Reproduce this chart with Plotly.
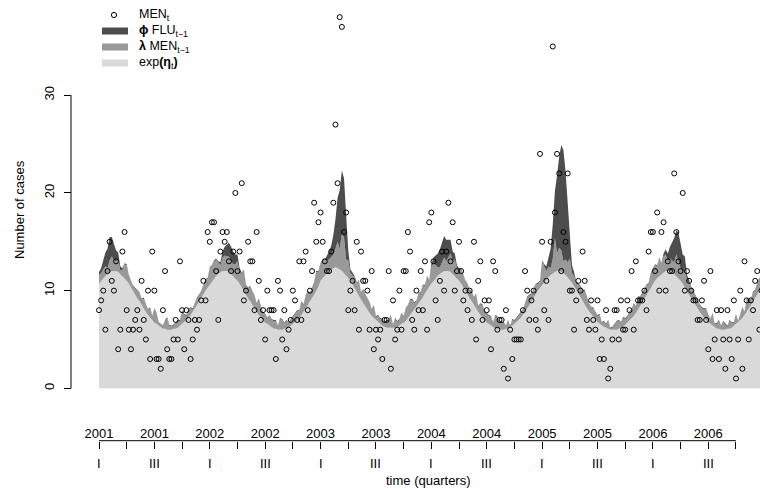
import plotly.graph_objects as go

# ---------------- data ----------------
men_2001 = [8, 9, 10, 6, 12, 15, 11, 10, 13, 4, 6, 14, 16, 8, 6, 4, 6, 7, 8, 6,
            11, 7, 5, 10, 3, 14, 10, 3, 3, 2, 8, 12, 4, 3, 3, 5, 7, 5, 13, 8,
            4, 8, 7, 3, 5, 7, 6, 7, 9, 11, 9, 16]
men_2002 = [15, 17, 17, 12, 7, 14, 16, 15, 16, 13, 12, 14, 20, 12, 14, 21, 9, 10, 15, 13,
            13, 8, 16, 11, 7, 8, 5, 10, 8, 8, 8, 3, 11, 10, 5, 8, 4, 6, 7, 10,
            9, 7, 13, 7, 13, 14, 8, 10, 12, 19, 15, 17]
men_2003 = [18, 15, 13, 12, 12, 14, 19, 27, 21, 38, 37, 16, 18, 8, 10, 11, 8, 15, 6, 14,
            11, 11, 10, 6, 12, 4, 6, 5, 6, 3, 7, 7, 12, 2, 9, 5, 6, 10, 6, 12,
            12, 16, 14, 7, 6, 10, 8, 12, 8, 13, 6, 17]
men_2004 = [18, 13, 9, 7, 11, 14, 10, 14, 19, 13, 17, 10, 12, 15, 12, 9, 10, 8, 10, 7,
            15, 5, 11, 13, 7, 9, 8, 9, 4, 13, 12, 6, 7, 7, 2, 8, 1, 6, 3, 5,
            5, 5, 5, 8, 12, 10, 7, 9, 10, 7, 6, 24]
men_2005 = [15, 8, 11, 7, 15, 35, 18, 24, 22, 12, 16, 15, 22, 10, 10, 6, 9, 11, 10, 14,
            11, 7, 6, 9, 7, 6, 9, 3, 5, 3, 8, 1, 2, 5, 8, 8, 5, 9, 6, 6,
            9, 8, 12, 6, 13, 9, 9, 9, 10, 8, 14, 16]
men_2006 = [16, 12, 18, 10, 16, 17, 10, 13, 12, 12, 22, 16, 13, 12, 20, 10, 12, 11, 10, 9,
            9, 7, 7, 9, 11, 7, 4, 12, 3, 5, 8, 3, 8, 5, 2, 8, 5, 3, 9, 1,
            5, 10, 2, 13, 9, 5, 9, 8, 11, 12, 6, 10]
men_week_before_start = 9

# endemic component exp(eta_t)
endemic_2001 = [10.7, 11.0, 11.3, 11.5, 11.7, 11.9, 12.0, 12.0, 12.0, 11.9, 11.7, 11.5, 11.3,
                11.0, 10.7, 10.3, 10.0, 9.6, 9.2, 8.9, 8.5, 8.1, 7.8, 7.5, 7.2, 7.0,
                6.7, 6.6, 6.4, 6.2, 6.1, 6.1, 6.0, 6.0, 6.0, 6.1, 6.1, 6.2, 6.4,
                6.6, 6.7, 7.0, 7.2, 7.5, 7.8, 8.1, 8.5, 8.9, 9.2, 9.6, 10.0, 10.3]
endemic_2002 = [10.7, 11.0, 11.3, 11.5, 11.7, 11.9, 12.0, 12.0, 12.0, 11.9, 11.7, 11.5, 11.3,
                11.0, 10.7, 10.3, 10.0, 9.6, 9.2, 8.9, 8.5, 8.1, 7.8, 7.5, 7.2, 7.0,
                6.7, 6.6, 6.4, 6.2, 6.1, 6.1, 6.0, 6.0, 6.0, 6.1, 6.1, 6.2, 6.4,
                6.6, 6.7, 7.0, 7.2, 7.5, 7.8, 8.1, 8.5, 8.9, 9.2, 9.6, 10.0, 10.4]
endemic_2003 = [11.0, 11.3, 11.6, 11.8, 12.0, 12.2, 12.3, 12.4, 12.3, 12.2, 12.0, 11.8, 11.6,
                11.3, 11.0, 10.6, 10.3, 9.9, 9.5, 9.1, 8.7, 8.4, 8.0, 7.7, 7.4, 7.2,
                6.9, 6.8, 6.6, 6.4, 6.3, 6.2, 6.2, 6.2, 6.2, 6.2, 6.3, 6.4, 6.6,
                6.7, 6.9, 7.2, 7.4, 7.7, 8.0, 8.3, 8.6, 9.0, 9.3, 9.7, 10.1, 10.4]
endemic_2004 = [10.7, 11.0, 11.3, 11.5, 11.7, 11.9, 12.0, 12.0, 12.0, 11.9, 11.7, 11.5, 11.3,
                11.0, 10.7, 10.3, 10.0, 9.6, 9.2, 8.9, 8.5, 8.1, 7.8, 7.5, 7.2, 7.0,
                6.7, 6.6, 6.4, 6.2, 6.1, 6.1, 6.0, 6.0, 6.0, 6.1, 6.1, 6.2, 6.4,
                6.6, 6.7, 7.0, 7.2, 7.5, 7.8, 8.1, 8.5, 8.9, 9.2, 9.6, 10.0, 10.3]
endemic_2005 = [10.6, 10.9, 11.2, 11.4, 11.6, 11.8, 11.9, 12.0, 12.0, 11.9, 11.8, 11.6, 11.4,
                11.1, 10.8, 10.5, 10.1, 9.7, 9.3, 9.0, 8.6, 8.2, 7.9, 7.6, 7.3, 7.0,
                6.8, 6.6, 6.4, 6.3, 6.2, 6.1, 6.0, 6.0, 6.0, 6.0, 6.1, 6.2, 6.3,
                6.5, 6.7, 6.9, 7.2, 7.4, 7.7, 8.0, 8.4, 8.8, 9.1, 9.5, 9.9, 10.3]
endemic_2006 = [10.6, 11.0, 11.3, 11.5, 11.7, 11.9, 12.0, 12.0, 12.0, 11.9, 11.7, 11.5, 11.3,
                11.0, 10.7, 10.3, 10.0, 9.6, 9.2, 8.9, 8.5, 8.1, 7.8, 7.5, 7.2, 7.0,
                6.7, 6.6, 6.4, 6.2, 6.1, 6.1, 6.0, 6.0, 6.0, 6.1, 6.1, 6.2, 6.4,
                6.6, 6.7, 7.0, 7.2, 7.5, 7.8, 8.1, 8.5, 8.9, 9.2, 9.6, 10.0, 10.3]

# neighbour (influenza) component phi * FLU_{t-1}
flu_2001 = [0.3, 0.5, 0.9, 1.4, 2.0, 2.4, 2.0, 1.6, 1.1, 0.7, 0.4, 0.2, 0.1,
            0.1, 0.1, 0.1, 0.1, 0.1, 0.1, 0.1, 0.1, 0.1, 0.1, 0.1, 0.1, 0.1,
            0.1, 0.1, 0.1, 0.1, 0.1, 0.1, 0.1, 0.1, 0.1, 0.1, 0.1, 0.1, 0.1,
            0.1, 0.1, 0.1, 0.1, 0.1, 0.1, 0.1, 0.1, 0.1, 0.1, 0.1, 0.1, 0.1]
flu_2002 = [0.1, 0.1, 0.1, 0.1, 0.1, 0.3, 0.6, 0.9, 1.2, 1.4, 1.5, 1.3, 1.0,
            0.7, 0.4, 0.1, 0.1, 0.1, 0.1, 0.1, 0.1, 0.1, 0.1, 0.1, 0.1, 0.1,
            0.1, 0.1, 0.1, 0.1, 0.1, 0.1, 0.1, 0.1, 0.1, 0.1, 0.1, 0.1, 0.1,
            0.1, 0.1, 0.1, 0.1, 0.1, 0.1, 0.1, 0.1, 0.1, 0.1, 0.1, 0.1, 0.1]
flu_2003 = [0.1, 0.1, 0.1, 0.5, 0.8, 1.2, 2.0, 3.0, 4.5, 6.0, 6.5, 6.0, 4.5,
            1.0, 0.4, 0.2, 0.1, 0.1, 0.1, 0.1, 0.1, 0.1, 0.1, 0.1, 0.1, 0.1,
            0.1, 0.1, 0.1, 0.1, 0.1, 0.1, 0.1, 0.1, 0.1, 0.1, 0.1, 0.1, 0.1,
            0.1, 0.1, 0.1, 0.1, 0.1, 0.1, 0.1, 0.1, 0.1, 0.1, 0.1, 0.1, 0.1]
flu_2004 = [0.3, 0.6, 1.0, 1.4, 1.8, 2.0, 2.2, 2.2, 1.8, 1.4, 1.0, 0.6, 0.3,
            0.1, 0.1, 0.1, 0.1, 0.1, 0.1, 0.1, 0.1, 0.1, 0.1, 0.1, 0.1, 0.1,
            0.1, 0.1, 0.1, 0.1, 0.1, 0.1, 0.1, 0.1, 0.1, 0.1, 0.1, 0.1, 0.1,
            0.1, 0.1, 0.1, 0.1, 0.1, 0.1, 0.1, 0.1, 0.1, 0.1, 0.1, 0.1, 0.1]
flu_2005 = [0.1, 0.3, 0.5, 1.0, 2.0, 3.5, 4.8, 8.0, 9.3, 10.8, 11.4, 9.0, 6.2,
            2.5, 0.8, 0.4, 0.2, 0.1, 0.1, 0.1, 0.1, 0.1, 0.1, 0.1, 0.1, 0.1,
            0.1, 0.1, 0.1, 0.1, 0.1, 0.1, 0.1, 0.1, 0.1, 0.1, 0.1, 0.1, 0.1,
            0.1, 0.1, 0.1, 0.1, 0.1, 0.1, 0.1, 0.1, 0.1, 0.1, 0.1, 0.1, 0.1]
flu_2006 = [0.1, 0.1, 0.1, 0.1, 0.1, 0.3, 0.5, 0.8, 1.2, 1.8, 2.5, 2.5, 3.0,
            2.5, 1.8, 1.2, 0.6, 0.3, 0.1, 0.1, 0.1, 0.1, 0.1, 0.1, 0.1, 0.1,
            0.1, 0.1, 0.1, 0.1, 0.1, 0.1, 0.1, 0.1, 0.1, 0.1, 0.1, 0.1, 0.1,
            0.1, 0.1, 0.1, 0.1, 0.1, 0.1, 0.1, 0.1, 0.1, 0.1, 0.1, 0.1, 0.1]

lambda_ar = 0.1  # autoregressive coefficient

# quarter ticks: labelled ones (quarters I and III) and unlabelled ones (II and IV)
labelled_tick_weeks = [1, 27, 53, 79, 105, 131, 157, 183, 209, 235, 261, 287]
year_tick_labels = ["2001", "2001", "2002", "2002", "2003", "2003",
                    "2004", "2004", "2005", "2005", "2006", "2006"]
quarter_tick_labels = ["I", "III", "I", "III", "I", "III",
                       "I", "III", "I", "III", "I", "III"]
unlabelled_tick_weeks = [14, 40, 66, 92, 118, 144, 170, 196, 222, 248, 274, 300]
y_tick_values = [0, 10, 20, 30]

# ---------------- assemble ----------------
men = men_2001 + men_2002 + men_2003 + men_2004 + men_2005 + men_2006
endemic = endemic_2001 + endemic_2002 + endemic_2003 + endemic_2004 + endemic_2005 + endemic_2006
flu = flu_2001 + flu_2002 + flu_2003 + flu_2004 + flu_2005 + flu_2006
weeks = list(range(1, len(men) + 1))
men_prev = [men_week_before_start] + men[:-1]
ar = [lambda_ar * v for v in men_prev]

# ---------------- layout calibration (pixels) ----------------
W, H = 760, 489
L = 71
plot_bottom_px = 400
y0_px, px_per_case = 388.3, 9.767
x1_px, px_per_week = 99.0, 2.1304
yr = [(y0_px - plot_bottom_px) / px_per_case, y0_px / px_per_case]
xr = [1 - (x1_px - L) / px_per_week, 1 + (W - x1_px) / px_per_week]
PW = W - L

def px_x(p):
    return (p - L) / PW

def px_y(p):
    return (H - p) / H

FONT = "Liberation Sans, Arial, Helvetica, sans-serif"
C_DARK, C_MID, C_LIGHT = "#4d4d4d", "#999999", "#d9d9d9"

fig = go.Figure()
fig.add_trace(go.Scatter(x=weeks, y=endemic, stackgroup="fit", mode="lines",
                         line=dict(width=0, color=C_LIGHT), fillcolor=C_LIGHT,
                         showlegend=False, hoverinfo="skip"))
fig.add_trace(go.Scatter(x=weeks, y=ar, stackgroup="fit", mode="lines",
                         line=dict(width=0, color=C_MID), fillcolor=C_MID,
                         showlegend=False, hoverinfo="skip"))
fig.add_trace(go.Scatter(x=weeks, y=flu, stackgroup="fit", mode="lines",
                         line=dict(width=0, color=C_DARK), fillcolor=C_DARK,
                         showlegend=False, hoverinfo="skip"))
fig.add_trace(go.Scatter(x=weeks, y=men, mode="markers",
                         marker=dict(symbol="circle-open", size=5, color="black",
                                     line=dict(width=1, color="black")),
                         showlegend=False))

all_ticks = sorted(labelled_tick_weeks + unlabelled_tick_weeks)
shapes = [
    # y axis line 0..30
    dict(type="line", xref="paper", yref="y", x0=0, x1=0,
         y0=y_tick_values[0], y1=y_tick_values[-1], line=dict(color="black", width=1)),
    # x axis line first..last tick
    dict(type="line", xref="x", yref="paper", x0=all_ticks[0], x1=all_ticks[-1],
         y0=px_y(440.7), y1=px_y(440.7), line=dict(color="black", width=1)),
]

annotations = []
for wk, lab in zip(labelled_tick_weeks, quarter_tick_labels):
    annotations.append(dict(x=wk, xref="x", y=px_y(463.5), yref="paper", text=lab,
                            showarrow=False, xanchor="center", yanchor="middle",
                            font=dict(size=13, color="black", family=FONT)))
annotations.append(dict(x=px_x(428.5), xref="paper", y=px_y(480.5), yref="paper",
                        text="time (quarters)", showarrow=False, xanchor="center",
                        yanchor="middle", font=dict(size=13, color="black", family=FONT)))
annotations.append(dict(x=px_x(20), xref="paper", y=px_y(210), yref="paper",
                        text="Number of cases", textangle=-90, showarrow=False,
                        xanchor="center", yanchor="middle",
                        font=dict(size=13, color="black", family=FONT)))

# legend (manual)
legend_texts = ["MEN<sub>t</sub>", "<b>\u03d5</b> FLU<sub>t\u22121</sub>",
                "<b>\u03bb</b> MEN<sub>t\u22121</sub>", "exp<b>(\u03b7</b><sub>t</sub><b>)</b>"]
legend_cols = [None, C_DARK, C_MID, C_LIGHT]
legend_y = [15, 31, 47, 63]
for txt, col, yy in zip(legend_texts, legend_cols, legend_y):
    if col is None:
        shapes.append(dict(type="circle", xref="paper", yref="paper",
                           xsizemode="pixel", ysizemode="pixel",
                           xanchor=px_x(114), yanchor=px_y(yy),
                           x0=-2.6, x1=2.6, y0=-2.6, y1=2.6,
                           line=dict(color="black", width=1)))
    else:
        shapes.append(dict(type="line", xref="paper", yref="paper",
                           x0=px_x(102), x1=px_x(128), y0=px_y(yy), y1=px_y(yy),
                           line=dict(color=col, width=7)))
    annotations.append(dict(x=px_x(137), xref="paper", y=px_y(yy), yref="paper",
                            text=txt, showarrow=False, xanchor="left", yanchor="middle",
                            font=dict(size=12.5, color="black", family=FONT)))

fig.update_layout(
    width=W, height=H,
    margin=dict(l=L, r=0, t=0, b=0, pad=0),
    paper_bgcolor="white", plot_bgcolor="white",
    font=dict(family=FONT, size=13, color="black"),
    showlegend=False,
    shapes=shapes, annotations=annotations,
    xaxis=dict(domain=[0, 1], range=xr, anchor="free", position=px_y(440.7),
               side="top", ticks="inside", ticklen=7, tickwidth=1, tickcolor="black",
               tickmode="array", tickvals=labelled_tick_weeks, ticktext=year_tick_labels,
               minor=dict(tickmode="array", tickvals=unlabelled_tick_weeks, ticks="inside",
                          ticklen=7, tickwidth=1, tickcolor="black", showgrid=False),
               showline=False, showgrid=False, zeroline=False,
               tickfont=dict(size=13, color="black", family=FONT)),
    yaxis=dict(domain=[px_y(plot_bottom_px), 1], range=yr, anchor="free", position=0,
               ticks="outside", ticklen=7, tickwidth=1, tickcolor="black",
               tickmode="array", tickvals=y_tick_values, ticktext=[str(v) for v in y_tick_values],
               tickangle=-90, ticklabelstandoff=5, showline=False, showgrid=False, zeroline=False,
               tickfont=dict(size=13, color="black", family=FONT)),
)

fig.write_html("out.html")
